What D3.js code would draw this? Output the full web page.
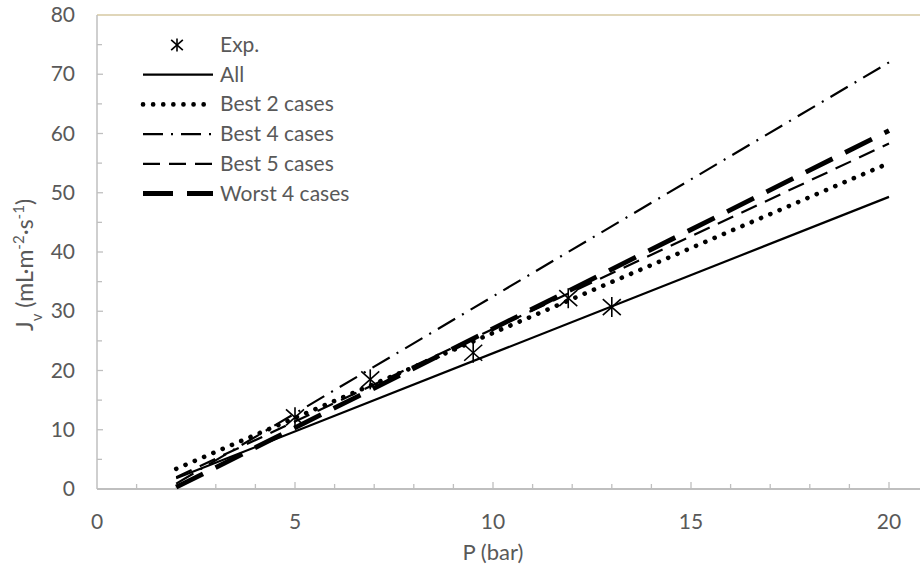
<!DOCTYPE html>
<html>
<head>
<meta charset="utf-8">
<script src="https://cdn.jsdelivr.net/npm/d3@7"></script>
<style>
  body { margin: 0; background: #fff; }
  text { font-family: Lato, "Open Sans", sans-serif; fill: #595959; }
</style>
</head>
<body>
<div id="chart"></div>
<script>
// experimental points
var expPressure = [5.0, 6.9, 9.5, 11.9, 13.0];
var expFlux = [12.1, 18.5, 23.0, 32.2, 30.7];

// model lines, evaluated at both ends of the pressure range
var modelPressure = [2, 20];
var fluxAll = [1.8, 49.3];
var fluxBest2 = [3.4, 55.0];
var fluxBest4 = [0.9, 72.0];
var fluxBest5 = [2.0, 58.3];
var fluxWorst4 = [0.3, 60.5];

var seriesNames = ["All", "Best 2 cases", "Best 4 cases", "Best 5 cases", "Worst 4 cases"];
var xTicks = [0, 5, 10, 15, 20];
var yTicks = [0, 10, 20, 30, 40, 50, 60, 70, 80];

var W = 920, H = 570;
var FS = "21px";
var svg = d3.select("#chart").append("svg").attr("width", W).attr("height", H);

var x = d3.scaleLinear().domain([0, 20]).range([97, 889]);
var y = d3.scaleLinear().domain([0, 80]).range([489, 15]);

// line styles per series
var styles = [
  {width: 2.2, dash: null, cap: "butt"},
  {width: 4.6, dash: "0.1 10", cap: "round"},
  {width: 2.2, dash: "20 8 2 8", cap: "butt"},
  {width: 2.2, dash: "17 9", cap: "butt"},
  {width: 4.8, dash: "30 14", cap: "butt"}
];
var seriesData = [fluxAll, fluxBest2, fluxBest4, fluxBest5, fluxWorst4];

// frame: top border and axes
svg.append("line").attr("x1", x(0)).attr("x2", W).attr("y1", y(80)).attr("y2", y(80))
  .attr("stroke", "#d6c9a2").attr("stroke-width", 1.5);
svg.append("line").attr("x1", x(0)).attr("x2", W).attr("y1", y(0)).attr("y2", y(0))
  .attr("stroke", "#bfbfbf").attr("stroke-width", 2);
svg.append("line").attr("x1", x(0)).attr("x2", x(0)).attr("y1", y(0)).attr("y2", y(80))
  .attr("stroke", "#bfbfbf").attr("stroke-width", 1.5);

// x ticks (inside)
var xg = svg.append("g");
xg.selectAll("line").data(d3.range(1, 21)).enter().append("line")
  .attr("x1", function (d) { return x(d); })
  .attr("x2", function (d) { return x(d); })
  .attr("y1", y(0))
  .attr("y2", function (d) { return y(0) - (d % 5 === 0 ? 7 : 5); })
  .attr("stroke", "#bfbfbf").attr("stroke-width", 1.3);
xg.selectAll("text").data(xTicks).enter().append("text")
  .attr("x", function (d) { return x(d); })
  .attr("y", 529)
  .attr("text-anchor", "middle")
  .style("font-size", FS)
  .text(function (d) { return d; });

// y ticks (inside)
var yg = svg.append("g");
yg.selectAll("line").data(d3.range(5, 80, 5)).enter().append("line")
  .attr("y1", function (d) { return y(d); })
  .attr("y2", function (d) { return y(d); })
  .attr("x1", x(0))
  .attr("x2", function (d) { return x(0) + (d % 10 === 0 ? 6 : 5); })
  .attr("stroke", "#bfbfbf").attr("stroke-width", 1.3);
yg.selectAll("text").data(yTicks).enter().append("text")
  .attr("x", 75)
  .attr("y", function (d) { return y(d) + 7; })
  .attr("text-anchor", "end")
  .style("font-size", FS)
  .text(function (d) { return d; });

// axis titles
svg.append("text").attr("x", x(10)).attr("y", 560).attr("text-anchor", "middle")
  .style("font-size", "22px").text("P (bar)");

var yt = svg.append("text")
  .attr("transform", "translate(33,265) rotate(-90)")
  .attr("text-anchor", "middle")
  .style("font-size", "23px");
yt.append("tspan").text("J");
yt.append("tspan").attr("baseline-shift", "sub").style("font-size", "15px").text("v");
yt.append("tspan").text(" (mL·m");
yt.append("tspan").attr("baseline-shift", "super").style("font-size", "15px").text("-2");
yt.append("tspan").text("·s");
yt.append("tspan").attr("baseline-shift", "super").style("font-size", "15px").text("-1");
yt.append("tspan").text(")");

// model lines
var line = d3.line()
  .x(function (d) { return x(d[0]); })
  .y(function (d) { return y(d[1]); });

seriesData.forEach(function (vals, i) {
  var pts = modelPressure.map(function (p, j) { return [p, vals[j]]; });
  svg.append("path")
    .attr("d", line(pts))
    .attr("fill", "none")
    .attr("stroke", "#000")
    .attr("stroke-width", styles[i].width)
    .attr("stroke-dasharray", styles[i].dash)
    .attr("stroke-linecap", styles[i].cap);
});

// asterisk marker
function star(g, cx, cy, r) {
  var arms = [[0, -r, 0, r], [-r * 0.9, -r * 0.8, r * 0.9, r * 0.8], [-r * 0.9, r * 0.8, r * 0.9, -r * 0.8]];
  arms.forEach(function (a) {
    g.append("line")
      .attr("x1", cx + a[0]).attr("y1", cy + a[1])
      .attr("x2", cx + a[2]).attr("y2", cy + a[3])
      .attr("stroke", "#000").attr("stroke-width", 1.6);
  });
}

var mk = svg.append("g");
expPressure.forEach(function (p, i) {
  star(mk, x(p), y(expFlux[i]), 10);
});

// legend
var lg = svg.append("g");
var rowY = function (i) { return 45 + i * 29.7; };
star(lg, 177, rowY(0), 6.5);
lg.append("text").attr("x", 220).attr("y", rowY(0) + 7).style("font-size", FS).text("Exp.");
seriesNames.forEach(function (name, i) {
  var yy = rowY(i + 1);
  lg.append("line")
    .attr("x1", 143).attr("x2", 213).attr("y1", yy).attr("y2", yy)
    .attr("stroke", "#000")
    .attr("stroke-width", styles[i].width)
    .attr("stroke-dasharray", styles[i].dash)
    .attr("stroke-linecap", styles[i].cap);
  lg.append("text").attr("x", 220).attr("y", yy + 7).style("font-size", FS).text(name);
});
</script>
</body>
</html>
